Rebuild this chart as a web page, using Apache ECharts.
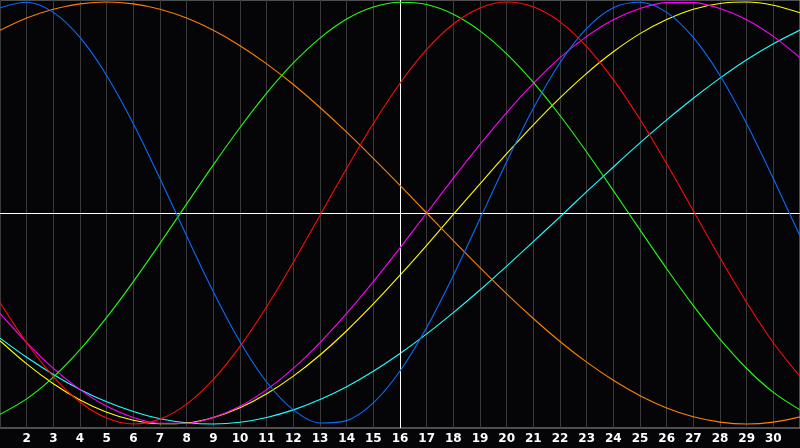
<!DOCTYPE html>
<html>
<head>
<meta charset="utf-8">
<script src="https://cdn.jsdelivr.net/npm/echarts@6/dist/echarts.min.js"></script>
<style>
  html, body { margin: 0; padding: 0; background: #050508; }
  #chart { width: 800px; height: 448px; }
</style>
</head>
<body>
<div id="chart"></div>
<script>
// Day numbers along the x axis
const days = [1,2,3,4,5,6,7,8,9,10,11,12,13,14,15,16,17,18,19,20,21,22,23,24,25,26,27,28,29,30,31];

// Values (range -1 .. 1)
const physical     = [0.973,0.999,0.951,0.832,0.652,0.423,0.163,-0.109,-0.373,-0.610,-0.801,-0.933,-0.995,-0.984,-0.900,-0.749,-0.543,-0.296,-0.027,0.243,0.496,0.712,0.875,0.973,0.999,0.951,0.832,0.652,0.423,0.163,-0.109];
const emotional    = [-0.424,-0.615,-0.775,-0.896,-0.972,-1.000,-0.977,-0.906,-0.789,-0.632,-0.444,-0.233,-0.011,0.212,0.424,0.615,0.775,0.896,0.972,1.000,0.977,0.906,0.789,0.632,0.444,0.233,0.011,-0.212,-0.424,-0.615,-0.775];
const intellectual = [-0.954,-0.881,-0.778,-0.648,-0.495,-0.325,-0.144,0.043,0.228,0.405,0.568,0.711,0.829,0.919,0.976,0.999,0.988,0.942,0.863,0.754,0.619,0.462,0.289,0.106,-0.080,-0.264,-0.439,-0.598,-0.737,-0.850,-0.933];
const intuitive    = [-0.476,-0.614,-0.736,-0.837,-0.916,-0.969,-0.997,-0.997,-0.969,-0.916,-0.837,-0.736,-0.614,-0.476,-0.325,-0.165,0.000,0.165,0.325,0.476,0.614,0.736,0.837,0.916,0.969,0.997,0.997,0.969,0.916,0.837,0.736];
const aesthetic    = [-0.605,-0.715,-0.809,-0.886,-0.944,-0.982,-0.999,-0.995,-0.969,-0.923,-0.857,-0.773,-0.673,-0.558,-0.431,-0.295,-0.153,-0.007,0.138,0.281,0.418,0.546,0.662,0.764,0.850,0.917,0.966,0.993,1.000,0.985,0.949];
const awareness    = [0.866,0.924,0.966,0.991,1.000,0.991,0.966,0.924,0.866,0.793,0.707,0.609,0.500,0.383,0.259,0.131,0.000,-0.131,-0.259,-0.383,-0.500,-0.609,-0.707,-0.793,-0.866,-0.924,-0.966,-0.991,-1.000,-0.991,-0.966];
const spiritual    = [-0.593,-0.684,-0.765,-0.836,-0.895,-0.941,-0.975,-0.994,-1.000,-0.992,-0.969,-0.933,-0.884,-0.823,-0.750,-0.666,-0.573,-0.472,-0.365,-0.252,-0.136,-0.018,0.101,0.218,0.332,0.441,0.544,0.639,0.726,0.802,0.867];

const seriesDefs = [
  { name: 'Spiritual',    values: spiritual,    color: '#20ffff' },
  { name: 'Aesthetic',    values: aesthetic,    color: '#ffff00' },
  { name: 'Intuitive',    values: intuitive,    color: '#ff00ff' },
  { name: 'Awareness',    values: awareness,    color: '#ff8000' },
  { name: 'Intellectual', values: intellectual, color: '#22ff11' },
  { name: 'Emotional',    values: emotional,    color: '#ff0a0a' },
  { name: 'Physical',     values: physical,     color: '#0a6cff' }
];

const chart = echarts.init(document.getElementById('chart'), null, { renderer: 'canvas' });

const series = seriesDefs.map(function (s, i) {
  return {
    name: s.name,
    type: 'line',
    data: days.map(function (d, k) { return [d, s.values[k]]; }),
    smooth: 0.3,
    symbol: 'none',
    lineStyle: { color: s.color, width: 1.1 },
    itemStyle: { color: s.color },
    z: 3 + i
  };
});

series.push({
  name: 'ref',
  type: 'line',
  data: [],
  z: 2,
  markLine: {
    silent: true,
    symbol: 'none',
    label: { show: false },
    lineStyle: { color: '#ffffff', width: 1, type: 'solid' },
    data: [{ xAxis: 16 }, { yAxis: 0 }]
  }
});

chart.setOption({
  animation: false,
  backgroundColor: '#050508',
  grid: {
    left: 0, right: 0, top: 0, bottom: 20,
    show: true,
    borderColor: '#9a9a9a',
    borderWidth: 1,
    backgroundColor: 'transparent'
  },
  xAxis: {
    type: 'value',
    min: 1,
    max: 31,
    interval: 1,
    axisLine: { show: true, lineStyle: { color: '#9a9a9a', width: 1 } },
    axisTick: { show: false },
    splitLine: { show: true, lineStyle: { color: '#3a3a3a', width: 1 } },
    axisLabel: {
      color: '#ffffff',
      fontWeight: 'bold',
      fontSize: 12,
      fontFamily: 'DejaVu Sans',
      margin: 5,
      showMinLabel: false,
      showMaxLabel: false
    }
  },
  yAxis: {
    type: 'value',
    min: -1.019,
    max: 1.0095,
    axisLine: { show: false },
    axisTick: { show: false },
    axisLabel: { show: false },
    splitLine: { show: false }
  },
  series: series
});
</script>
</body>
</html>
